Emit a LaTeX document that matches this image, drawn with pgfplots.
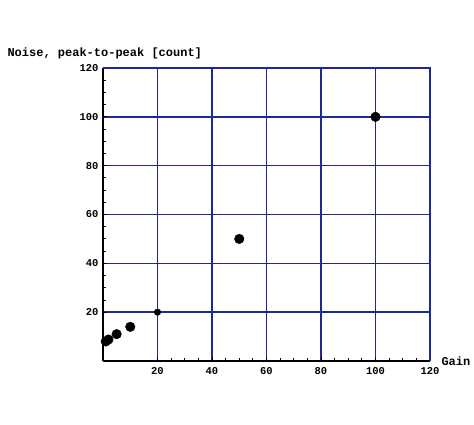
\documentclass[border=0pt]{standalone}
\usepackage{pgfplots}
\pgfplotsset{compat=1.18}
\usepackage{fontspec}
\setmainfont{Liberation Mono}
\definecolor{gridblue}{RGB}{30,40,150}
\begin{document}
\begin{tikzpicture}
\path[use as bounding box] (-103pt,-64pt) rectangle (371pt,361pt);
\begin{axis}[
  at={(0,0)}, anchor=south west,
  scale only axis, width=327pt, height=293pt,
  xmin=0, xmax=120, ymin=0, ymax=120,
  xtick={20,40,60,80,100,120},
  ytick={20,40,60,80,100,120},
  minor tick num=3,
  axis x line*=bottom, axis y line*=left,
  axis line style={black, line width=1.2pt, -},
  tick style={black, line width=0.9pt},
  major tick length=4pt, minor tick length=3pt,
  tick align=inside,
  grid=major,
  major grid style={gridblue, line width=1.5pt},
  /pgf/number format/assume math mode=true,
  ticklabel style={font=\fontsize{10.5}{12}\selectfont\bfseries},
  xticklabel style={yshift=-3pt},
  yticklabel style={xshift=-1pt},
  clip=false,
]
\draw[gridblue, line width=1.5pt] (rel axis cs:0,1) -- (rel axis cs:1,1) -- (rel axis cs:1,0);
\addplot[only marks, mark=*, mark size=4.8pt, black] coordinates {
  (1,8) (2,8.8) (5,11) (10,14) (50,50) (100,100)
};
\addplot[only marks, mark=*, mark size=3.3pt, black] coordinates {
  (20,20)
};
\node[anchor=west, font=\fontsize{12}{13}\selectfont\bfseries] at (rel axis cs:1,0) [xshift=8pt] {Gain};
\node[anchor=west, font=\fontsize{12}{13}\selectfont\bfseries] at (rel axis cs:0,1) [xshift=-99pt, yshift=15pt] {Noise, peak-to-peak [count]};
\end{axis}
\end{tikzpicture}
\end{document}
